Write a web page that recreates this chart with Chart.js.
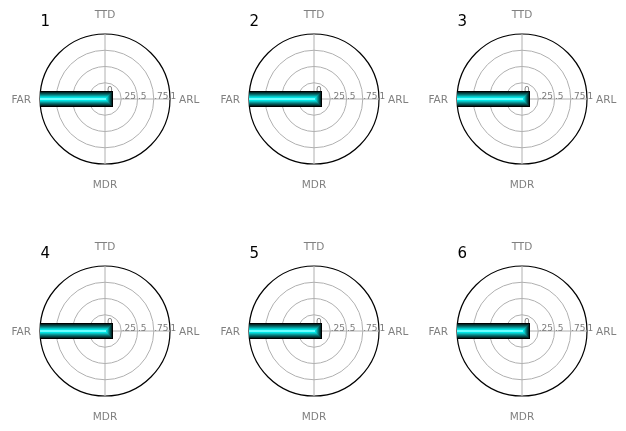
<!DOCTYPE html>
<html><head><meta charset="utf-8">
<script src="https://cdn.jsdelivr.net/npm/chart.js@4"></script>
<style>
html,body{margin:0;padding:0;background:#fff;width:626px;height:431px;overflow:hidden;position:relative}
canvas{position:absolute}
</style></head><body>
<script>
// ---- data ----
const categories = ['ARL', 'TTD', 'FAR', 'MDR'];
const panelTitles = ['1', '2', '3', '4', '5', '6'];
const values1 = [0, 0, 1, 0];
const values2 = [0, 0, 1, 0];
const values3 = [0, 0, 1, 0];
const values4 = [0, 0, 1, 0];
const values5 = [0, 0, 1, 0];
const values6 = [0, 0, 1, 0];
const panelValues = [values1, values2, values3, values4, values5, values6];
const radialTicks = [0, 0.25, 0.5, 0.75, 1];
const radialTickLabels = ['0', '.25', '.5', '.75', '1'];

// ---- layout / style ----
const panelCenters = [[105, 99], [314, 99], [522, 99], [105, 331], [314, 331], [522, 331]];
const glowWidths = [16, 14, 12, 10, 8, 6, 4, 2];
const glowColors = ['#000000', '#012a2a', '#044c4c', '#067070', '#079898', '#09c0c0', '#00e4e4', '#6affff'];
const FONT = '"DejaVu Sans", sans-serif';
// Chart.js runs clockwise; this order puts ARL right, TTD top, FAR left, MDR bottom
const chartOrder = [0, 3, 2, 1];

const labelPlugin = {
  id: 'labels',
  beforeDatasetsDraw(chart) {
    const s = chart.scales.r, ctx = chart.ctx;
    ctx.save();
    ctx.fillStyle = '#7a7a7a';
    ctx.font = '9px ' + FONT;
    ctx.textAlign = 'left';
    ctx.textBaseline = 'alphabetic';
    radialTicks.forEach((v, i) => {
      const d = s.getDistanceFromCenterForValue(v);
      const dy = v === 0 ? 6 : 0.5;
      ctx.fillText(radialTickLabels[i], s.xCenter + d + (v === 0 ? 2 : 0.5), s.yCenter - dy);
    });
    ctx.restore();
  },
  afterDraw(chart) {
    const s = chart.scales.r, ctx = chart.ctx;
    const R = s.drawingArea;
    ctx.save();
    ctx.fillStyle = '#808080';
    ctx.font = '10.5px ' + FONT;
    ctx.textBaseline = 'alphabetic';
    chart.data.labels.forEach((lab, i) => {
      const a = s.getIndexAngle(i) - Math.PI / 2;
      const c = Math.cos(a);
      if (Math.abs(c) > 0.5) {
        const p = s.getPointPosition(i, R + 9);
        ctx.textAlign = c > 0 ? 'left' : 'right';
        ctx.fillText(lab, p.x, p.y + 3.5);
      } else {
        const p = s.getPointPosition(i, R + 20);
        ctx.textAlign = 'center';
        ctx.fillText(lab, p.x, p.y + 3.8);
      }
    });
    ctx.fillStyle = '#000';
    ctx.font = '15px ' + FONT;
    ctx.textAlign = 'left';
    ctx.fillText(chart.options.plugins.panelTitle, s.xCenter - R + 0.5, s.yCenter - 73);
    ctx.restore();
  }
};

panelValues.forEach((vals, p) => {
  const [cx, cy] = panelCenters[p];
  const cv = document.createElement('canvas');
  cv.width = 200; cv.height = 200;
  cv.style.left = (cx - 100) + 'px';
  cv.style.top = (cy - 100) + 'px';
  document.body.appendChild(cv);
  const labels = chartOrder.map(i => categories[i]);
  const data = chartOrder.map(i => vals[i]);
  const datasets = glowWidths.map((w, k) => ({
    data: data,
    borderColor: glowColors[k],
    borderWidth: w,
    backgroundColor: 'transparent',
    fill: false,
    pointStyle: 'rect',
    pointRadius: (w / 2) / Math.SQRT1_2,
    pointBackgroundColor: glowColors[k],
    pointBorderWidth: 0,
    pointHoverRadius: 0,
    borderJoinStyle: 'bevel',
    order: glowWidths.length - k,
    clip: 0
  }));
  new Chart(cv, {
    type: 'radar',
    data: { labels, datasets },
    options: {
      responsive: false,
      animation: false,
      events: [],
      layout: { padding: 35 },
      plugins: { legend: { display: false }, tooltip: { enabled: false }, panelTitle: panelTitles[p] },
      scales: {
        r: {
          min: 0, max: 1, startAngle: 90,
          ticks: { display: false, stepSize: 0.25 },
          pointLabels: { display: false },
          grid: {
            circular: true,
            color: c => (c.tick && c.tick.value === 1) ? '#000000' : '#b0b0b0',
            lineWidth: c => (c.tick && c.tick.value === 1) ? 1.2 : 1
          },
          angleLines: { color: '#b0b0b0', lineWidth: 1 }
        }
      }
    },
    plugins: [labelPlugin]
  });
});
</script>
</body></html>
